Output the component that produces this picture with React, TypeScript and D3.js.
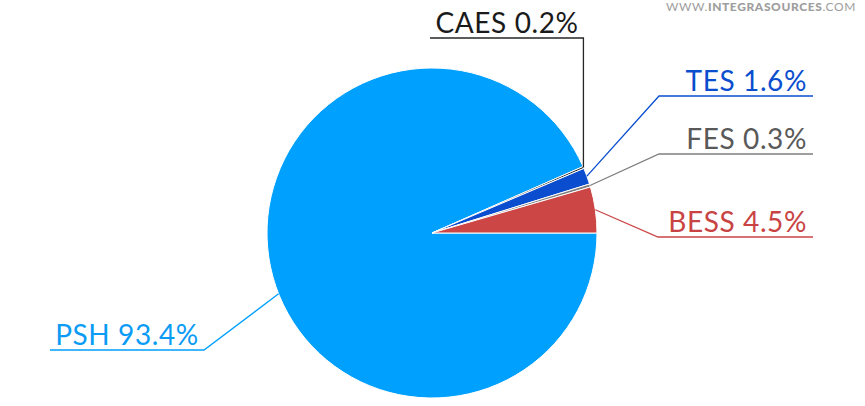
import React from "react";
import * as d3 from "d3";

const categories = ["PSH", "CAES", "TES", "FES", "BESS"];
const shares = [93.4, 0.2, 1.6, 0.3, 4.5];
const colors = ["#00A0FF", "#262626", "#0A4ECF", "#7F7F7F", "#CC4646"];
const textColors = ["#0A9BF5", "#1A1A1A", "#0A4ECF", "#595959", "#C94343"];

// label layout: elbow point, underline end, text anchor, fraction along slice for the anchor
const labelLayout = [
  { elbow: [204, 350], end: [50, 350], tx: 127, anchor: "middle", frac: 0.471 },
  { elbow: null, end: [430, 38], tx: 507, anchor: "middle", frac: 0.5 },
  { elbow: [659, 96], end: [813, 96], tx: 807, anchor: "end", frac: 0.5 },
  { elbow: [659, 154], end: [813, 154], tx: 807, anchor: "end", frac: 0.5 },
  { elbow: [658, 237], end: [813, 237], tx: 807, anchor: "end", frac: 0.5 },
];

const W = 865;
const H = 406;
const cx = 432;
const cy = 233;
const R = 165;

export default function App() {
  const data = categories.map((c, i) => ({ name: c, value: shares[i], i }));
  const pie = d3
    .pie<any>()
    .sort(null)
    .value((d: any) => d.value)
    .startAngle(Math.PI / 2)
    .endAngle(Math.PI / 2 + 2 * Math.PI);
  const arcs = pie(data);
  const arc = d3.arc<any>().innerRadius(0).outerRadius(R);
  const font = "'Lato', 'Open Sans', sans-serif";

  return (
    <svg
      width={W}
      height={H}
      style={{ position: "absolute", left: 0, top: 0, background: "#fff" }}
    >
      <text
        x={856}
        y={11}
        textAnchor="end"
        fontFamily={font}
        fontSize={12}
        fill="#9E9E9E"
        letterSpacing={0.6}
      >
        <tspan>WWW.</tspan>
        <tspan fontWeight="900">INTEGRASOURCES</tspan>
        <tspan>.COM</tspan>
      </text>
      <g transform={`translate(${cx},${cy})`}>
        {arcs.map((a, i) => (
          <path
            key={i}
            d={arc(a) as string}
            fill={colors[i]}
            stroke="#fff"
            strokeWidth={1}
          />
        ))}
      </g>
      {arcs.map((a, i) => {
        const L = labelLayout[i];
        const ang = a.startAngle + (a.endAngle - a.startAngle) * L.frac;
        const ax = cx + R * Math.sin(ang);
        const ay = cy - R * Math.cos(ang);
        const pts: [number, number][] = [[ax, ay]];
        if (L.elbow) pts.push(L.elbow as [number, number]);
        else pts.push([ax, L.end[1]]);
        pts.push(L.end as [number, number]);
        const line = d3.line()(pts) as string;
        return (
          <g key={"l" + i}>
            <path d={line} fill="none" stroke={colors[i]} strokeWidth={1.3} />
            <text
              x={L.tx}
              y={L.end[1] - 5}
              textAnchor={L.anchor as any}
              fontFamily={font}
              fontSize={28}
              letterSpacing={0.6}
              fill={textColors[i]}
            >
              {`${categories[i]} ${shares[i]}%`}
            </text>
          </g>
        );
      })}
    </svg>
  );
}
